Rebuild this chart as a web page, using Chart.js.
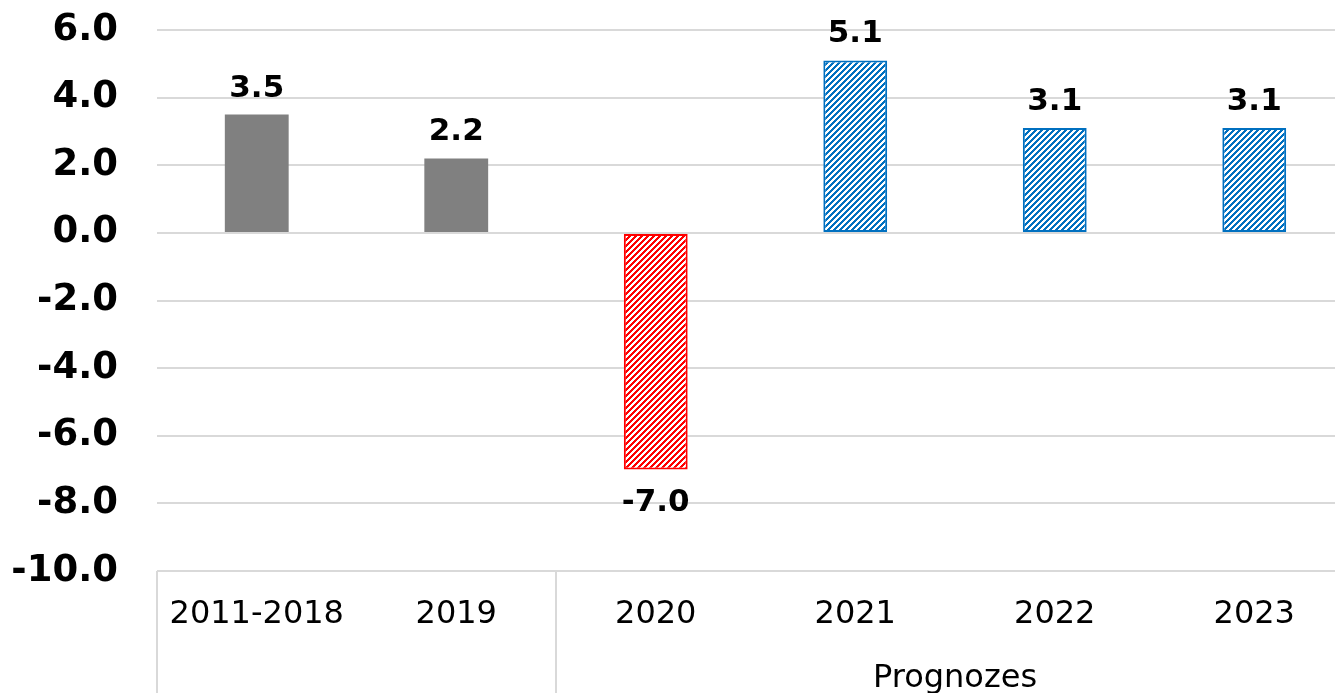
<!DOCTYPE html>
<html>
<head>
<meta charset="utf-8">
<script src="https://cdn.jsdelivr.net/npm/chart.js@4"></script>
<style>
  html, body { margin: 0; padding: 0; background: #fff; overflow: hidden; }
  #wrap { width: 1354px; height: 693px; }
</style>
</head>
<body>
<div id="wrap"><canvas id="growthChart"></canvas></div>
<script>
const categories = ['2011-2018', '2019', '2020', '2021', '2022', '2023'];
const values = [3.5, 2.2, -7.0, 5.1, 3.1, 3.1];
const groups = [
  { label: '', from: 0, to: 1 },
  { label: 'Prognozes', from: 2, to: 5 }
];
const yTicks = [-10, -8, -6, -4, -2, 0, 2, 4, 6];

// hatched fill like the excel "upward diagonal" pattern
function hatch(color) {
  const n = 6;
  const c = document.createElement('canvas');
  c.width = n; c.height = n;
  const g = c.getContext('2d');
  g.fillStyle = '#fff';
  g.fillRect(0, 0, n, n);
  g.fillStyle = color;
  for (let x = 0; x < n; x++) {
    for (let y = 0; y < n; y++) {
      if ((x + y) % n < 3) g.fillRect(x, y, 1, 1);
    }
  }
  return g.createPattern(c, 'repeat');
}

const red = hatch('#FF0000');
const blue = hatch('#0070C0');

const valueLabels = {
  id: 'valueLabels',
  afterDatasetsDraw(chart) {
    const ctx = chart.ctx;
    const meta = chart.getDatasetMeta(0);
    ctx.save();
    ctx.font = 'bold 31px "DejaVu Sans"';
    ctx.fillStyle = '#000';
    ctx.textAlign = 'center';
    ctx.textBaseline = 'alphabetic';
    meta.data.forEach((bar, i) => {
      const v = values[i];
      const y = v >= 0 ? bar.y - 18 : bar.y + 18 + 23;
      ctx.fillText(v.toFixed(1), bar.x, y);
    });
    ctx.restore();
  }
};

const groupAxis = {
  id: 'groupAxis',
  afterDraw(chart) {
    const ctx = chart.ctx;
    const x = chart.scales.x;
    const area = chart.chartArea;
    const half = (x.getPixelForValue(1) - x.getPixelForValue(0)) / 2;
    ctx.save();
    ctx.strokeStyle = '#d9d9d9';
    ctx.lineWidth = 2;
    ctx.beginPath();
    groups.forEach(gr => {
      const left = x.getPixelForValue(gr.from) - half;
      ctx.moveTo(left, area.bottom);
      ctx.lineTo(left, chart.height);
    });
    ctx.stroke();
    ctx.font = '32px "DejaVu Sans"';
    ctx.fillStyle = '#000';
    ctx.textAlign = 'center';
    groups.forEach(gr => {
      if (!gr.label) return;
      const cx = (x.getPixelForValue(gr.from) + x.getPixelForValue(gr.to)) / 2;
      ctx.fillText(gr.label, cx, 687);
    });
    ctx.restore();
  }
};

const ctx = document.getElementById('growthChart').getContext('2d');
const growthChart = new Chart(ctx, {
  type: 'bar',
  data: {
    labels: categories,
    datasets: [{
      data: values,
      backgroundColor: ['#808080', '#808080', red, blue, blue, blue],
      borderColor: ['#808080', '#808080', '#FF0000', '#0070C0', '#0070C0', '#0070C0'],
      borderWidth: [0, 0, 2, 2, 2, 2],
      borderSkipped: false,
      barPercentage: 0.32,
      categoryPercentage: 1
    }]
  },
  options: {
    responsive: true,
    maintainAspectRatio: false,
    animation: false,
    layout: { padding: 0 },
    plugins: {
      legend: { display: false },
      tooltip: { enabled: false }
    },
    scales: {
      x: {
        grid: { display: false },
        border: { display: false },
        ticks: {
          color: '#000',
          font: { family: 'DejaVu Sans', size: 32 },
          padding: 16,
          maxRotation: 0
        },
        afterFit(scale) { scale.height = 122; }
      },
      y: {
        min: -10,
        max: 6,
        afterBuildTicks(scale) { scale.ticks = yTicks.map(v => ({ value: v })); },
        grid: { color: '#d9d9d9', lineWidth: 2, drawTicks: false },
        border: { display: false },
        ticks: {
          color: '#000',
          font: { family: 'DejaVu Sans', size: 37, weight: 'bold' },
          padding: 39,
          callback: v => v.toFixed(1)
        },
        afterFit(scale) {
          scale.width = 157;
          scale.paddingTop = 30;
          scale.paddingBottom = 0;
        }
      }
    }
  },
  plugins: [valueLabels, groupAxis]
});
</script>
</body>
</html>
